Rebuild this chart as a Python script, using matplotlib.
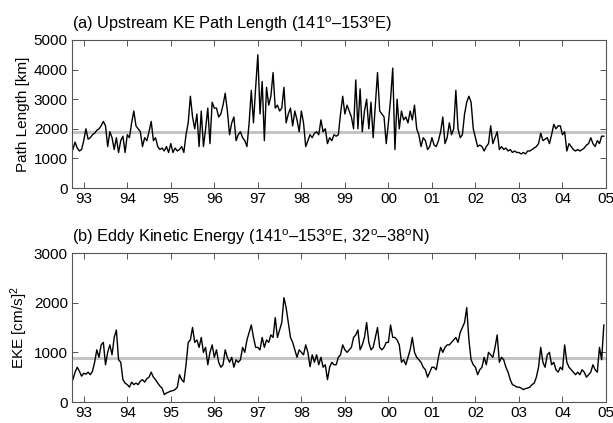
import numpy as np
import matplotlib
matplotlib.use("Agg")
import matplotlib.pyplot as plt

plt.rcParams['font.family'] = ['Liberation Sans', 'DejaVu Sans']
plt.rcParams['mathtext.fontset'] = 'custom'
plt.rcParams['mathtext.rm'] = 'Liberation Sans'
plt.rcParams['mathtext.it'] = 'Liberation Sans:italic'

# time axis: samples every 0.05 yr starting late 1992
t_start = 1992.75
t_step = 0.05

path_length = [
    1300, 1550, 1350, 1250, 1300,
    1600, 2000, 1650, 1700, 1800, 1850, 1950, 2000, 2100, 2250, 2100, 1400, 1900, 1700, 1300, 1700, 1200, 1600, 1750, 1200,
    1800, 1700, 2200, 2600, 2100, 2000, 1900, 1400, 1700, 1600, 1900, 2250, 1600, 1700, 1400, 1300, 1350, 1250, 1400, 1200,
    1500, 1200, 1350, 1250, 1300, 1400, 1200, 1800, 2200, 3100, 2400, 2000, 2500, 1400, 2600, 1400, 2000, 2700, 1500, 2900,
    2700, 2700, 2400, 2500, 2800, 3200, 2600, 1800, 2200, 2400, 1600, 1800, 1900, 1700, 1600, 1400, 2200, 3300, 2200, 3400,
    4500, 2500, 3600, 1600, 3400, 2800, 3100, 3900, 2700, 2800, 2600, 2700, 3400, 2200, 2500, 2700, 2100, 2600, 2300, 1900,
    2600, 2200, 1400, 1600, 1800, 1700, 1850, 1900, 1800, 2300, 1900, 2000, 1500, 1700, 1600, 1800, 1750, 1800, 2500, 3100,
    2500, 2800, 2600, 2400, 2000, 3650, 2000, 3350, 1900, 2600, 3000, 2000, 2900, 1700, 2800, 3900, 2600, 2500, 2400, 1500,
    2200, 3000, 4050, 1300, 3000, 2000, 2600, 2300, 2400, 2200, 2600, 2300, 2800, 2000, 1800, 1400, 1700, 1600, 1300, 1400,
    1700, 1450, 1400, 1600, 1900, 2400, 1500, 1700, 2200, 1800, 2000, 3300, 2000, 1700, 1800, 2500, 2900, 3100, 2900, 2000,
    1700, 1400, 1450, 1400, 1250, 1400, 1500, 2100, 1500, 1700, 1900, 1300, 1400, 1300, 1350, 1250, 1300, 1200, 1250, 1200,
    1200, 1150, 1200, 1150, 1250, 1250, 1300, 1350, 1400, 1500, 1850, 1600, 1650, 1700, 1500, 1800, 2150, 2000, 2100, 2100,
    1800, 1900, 1250, 1500, 1400, 1300, 1250, 1300, 1250, 1300, 1350, 1450, 1500, 1700, 1500, 1400, 1600, 1500, 1750, 1750,
]

eke = [
    450, 600, 700, 620, 520,
    580, 560, 600, 550, 620, 800, 1050, 900, 1150, 1200, 750, 1000, 1150, 950, 1300, 1450, 850, 800, 450, 380,
    350, 300, 400, 350, 380, 350, 420, 450, 400, 470, 500, 600, 500, 450, 380, 320, 280, 150, 180, 200,
    220, 230, 250, 300, 550, 450, 400, 750, 1200, 1250, 1500, 1200, 1250, 1100, 1300, 1000, 1100, 750, 1000, 1150,
    900, 1050, 800, 700, 750, 1050, 900, 800, 900, 700, 850, 800, 850, 1100, 1000, 1250, 1400, 1550, 1300, 1100,
    1100, 1050, 1300, 1100, 1250, 1200, 1350, 1300, 1700, 1300, 1450, 1600, 2100, 1900, 1600, 1300, 1200, 1050, 900, 1050,
    1000, 950, 1150, 1000, 710, 950, 800, 950, 750, 900, 700, 750, 450, 700, 800, 750, 750, 900, 950, 1150,
    1050, 1000, 1050, 1100, 1300, 1350, 1450, 1050, 1150, 1300, 1600, 1200, 1050, 1100, 1300, 1500, 1100, 1050, 1100, 1200,
    1200, 1550, 1300, 1300, 1250, 1150, 800, 850, 750, 900, 1050, 1300, 1000, 900, 850, 800, 700, 650, 500, 600,
    700, 700, 650, 900, 1100, 1000, 1100, 1150, 1150, 1200, 1250, 1300, 1200, 1400, 1500, 1600, 1900, 1250, 850, 750,
    700, 550, 650, 700, 900, 750, 1000, 950, 900, 1100, 1350, 800, 900, 850, 700, 600, 450, 350, 330, 300,
    300, 280, 250, 270, 280, 300, 350, 380, 500, 700, 1100, 800, 700, 950, 1000, 750, 800, 650, 600, 700,
    650, 1150, 800, 700, 650, 600, 550, 600, 550, 650, 600, 500, 550, 600, 750, 650, 600, 1100, 850, 1550,
]

path_mean = 1900
eke_mean = 880

year_ticks = [1993, 1994, 1995, 1996, 1997, 1998, 1999, 2000, 2001, 2002, 2003, 2004, 2005]
year_labels = ['93', '94', '95', '96', '97', '98', '99', '00', '01', '02', '03', '04', '05']

t1 = t_start + t_step * np.arange(len(path_length))
t2 = t_start + t_step * np.arange(len(eke))

fig = plt.figure(figsize=(6.13, 4.23), dpi=100)
ax1 = fig.add_axes([72/613, 1-188/423, 534/613, 148/423])
ax2 = fig.add_axes([72/613, 1-402/423, 534/613, 149/423])

grey = '#c4c4c4'

ax1.axhline(path_mean, color=grey, lw=2.2, zorder=1)
ax1.plot(t1, path_length, color='black', lw=1.0, zorder=2)
ax1.set_ylim(0, 5000)
ax1.set_yticks([0, 1000, 2000, 3000, 4000, 5000])
ax1.set_ylabel('Path Length [km]', fontsize=11, labelpad=3)
ax1.set_title(r'(a) Upstream KE Path Length (141$^{\rm o}$–153$^{\rm o}$E)',
              loc='left', fontsize=11.8, pad=8)

ax2.axhline(eke_mean, color=grey, lw=2.2, zorder=1)
ax2.plot(t2, eke, color='black', lw=1.0, zorder=2)
ax2.set_ylim(0, 3000)
ax2.set_yticks([0, 1000, 2000, 3000])
ax2.set_ylabel(r'EKE [cm/s]$^{2}$', fontsize=11, labelpad=3)
ax2.set_title(r'(b) Eddy Kinetic Energy (141$^{\rm o}$–153$^{\rm o}$E, 32$^{\rm o}$–38$^{\rm o}$N)',
              loc='left', fontsize=11.8, pad=8)

for ax in (ax1, ax2):
    ax.set_xlim(1992.73, 2005.0)
    ax.set_xticks(year_ticks)
    ax.set_xticklabels(year_labels)
    ax.tick_params(direction='in', top=True, right=True, length=4, width=0.7,
                   labelsize=11, color='#555555', pad=3)
    for s in ax.spines.values():
        s.set_color('#555555')
        s.set_linewidth(0.8)

fig.savefig('out.png', dpi=100)
